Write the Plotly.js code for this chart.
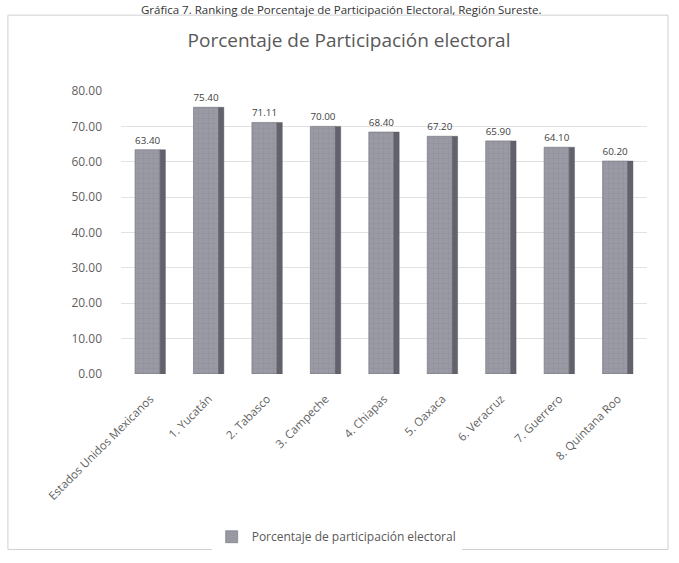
<!DOCTYPE html>
<html>
<head>
<meta charset="utf-8">
<script src="https://cdn.plot.ly/plotly-3.0.1.min.js"></script>
<style>html,body{margin:0;padding:0;background:#fff;}#chart{width:679px;height:563px;}</style>
</head>
<body>
<div id="chart"></div>
<script>
const categories = ["Estados Unidos Mexicanos", "1. Yucatán", "2. Tabasco", "3. Campeche", "4. Chiapas", "5. Oaxaca", "6. Veracruz", "7. Guerrero", "8. Quintana Roo"];
const participacion = [63.40, 75.40, 71.11, 70.00, 68.40, 67.20, 65.90, 64.10, 60.20];
const seriesName = "Porcentaje de participación electoral";
const chartTitle = "Porcentaje de Participación electoral";
const captionText = "Gráfica 7. Ranking de Porcentaje de Participación Electoral, Región Sureste.";
const yTicks = [0, 10, 20, 30, 40, 50, 60, 70, 80];

const FONT = "'Open Sans', Lato, sans-serif";

const front = {
  type: "bar",
  x: categories,
  y: participacion,
  name: seriesName,
  width: 0.43,
  offset: -0.26,
  marker: {
    color: "#9898a3",
    line: {color: "#6e6e78", width: 0.6},
    pattern: {shape: "+", size: 5, solidity: 0.12, fgcolor: "#80808c", fgopacity: 0.7, bgcolor: "#9a9aa5"}
  },
  text: participacion.map(v => v.toFixed(2)),
  textposition: "outside",
  textfont: {family: FONT, size: 12.5, color: "#404040"},
  cliponaxis: false,
  hoverinfo: "x+y"
};
const side = {
  type: "bar",
  x: categories,
  y: participacion,
  name: seriesName + " (lado)",
  width: 0.09,
  offset: 0.17,
  marker: {color: "#62626c", line: {color: "#50505a", width: 0.4}},
  showlegend: false,
  hoverinfo: "skip"
};

const layout = {
  width: 679, height: 563,
  margin: {l: 121, r: 32, t: 91, b: 185},
  paper_bgcolor: "#ffffff",
  plot_bgcolor: "#ffffff",
  barmode: "overlay",
  font: {family: FONT, color: "#595959"},
  title: {text: chartTitle, font: {family: FONT, size: 19, color: "#595959"}, x: 0.514, xanchor: "center", y: 0.929, yanchor: "middle"},
  xaxis: {
    type: "category",
    range: [-0.5, 8.5],
    tickangle: -45,
    tickfont: {family: FONT, size: 11.5, color: "#5f5f5f"},
    showgrid: false,
    showline: false,
    zeroline: false,
    ticks: "",
    ticklabelstandoff: 15,
    automargin: false
  },
  yaxis: {
    range: [0, 80],
    tickvals: yTicks,
    tickformat: ".2f",
    tickfont: {family: FONT, size: 12, color: "#5f5f5f"},
    showgrid: true,
    gridcolor: "#e2e2e2",
    gridwidth: 1,
    zeroline: false,
    showline: false,
    ticks: "",
    ticklabelstandoff: 18,
    automargin: false
  },
  showlegend: true,
  legend: {
    orientation: "h",
    x: 0.41, xanchor: "center",
    y: -0.575, yanchor: "middle",
    font: {family: FONT, size: 12, color: "#595959"},
    itemwidth: 30
  },
  shapes: [
    {type: "rect", xref: "paper", yref: "paper", x0: -0.215, x1: 1.04, y0: -0.62, y1: 1.268,
     line: {color: "#d0d0d0", width: 1}, fillcolor: "rgba(0,0,0,0)", layer: "below"}
  ],
  annotations: [
    {text: captionText, xref: "paper", yref: "paper", x: 0.42, y: 1.287, xanchor: "center", yanchor: "middle",
     showarrow: false, font: {family: FONT, size: 11.5, color: "#333333"}}
  ]
};

Plotly.newPlot("chart", [front, side], layout, {displayModeBar: false, staticPlot: true});
</script>
</body>
</html>
